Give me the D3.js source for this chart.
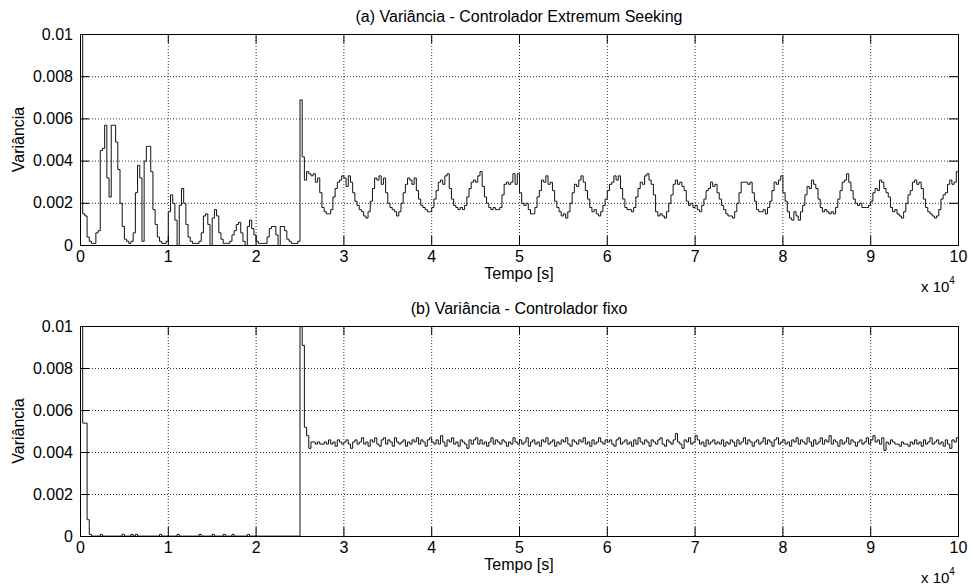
<!DOCTYPE html>
<html>
<head>
<meta charset="utf-8">
<script src="https://cdn.jsdelivr.net/npm/d3@7"></script>
<style>
	body { margin: 0; background: #fff; }
	text { font-family: "Liberation Sans", Arial, Helvetica, sans-serif; fill: #000; }
</style>
</head>
<body>
<div id="chart-area"></div>
<script>

// sample period of the variance series (s)
const step = 250;

const xTicks = [0, 1, 2, 3, 4, 5, 6, 7, 8, 9, 10];
const yTicks = [0, 0.002, 0.004, 0.006, 0.008, 0.01];

// (a) Extremum Seeking controller
const varES = [
	0.015, 0.0015, 0.0014, 0.0004, 0.0002, 0.0001, 0.0001, 0.0006, 0.0007, 0.0045,
	0.0046, 0.0057, 0.0032, 0.0023, 0.0057, 0.0057, 0.0049, 0.0036, 0.0020, 0.0009,
	0.0003, 0.0002, 0.0001, 0.0002, 0.0006, 0.0025, 0.0038, 0.0032, 0.0002, 0.0040,
	0.0047, 0.0047, 0.0035, 0.0017, 0.0010, 0.0004, 0.0002, 0.0001, 0.0001, 0.0002,
	0.0016, 0.0024, 0.0020, 0.0012, 0.0000, 0.0019, 0.0027, 0.0020, 0.0010, 0.0004,
	0.0002, 0.0001, 0.0001, 0.0001, 0.0002, 0.0006, 0.0014, 0.0015, 0.0010, 0.0000,
	0.0013, 0.0017, 0.0014, 0.0006, 0.0003, 0.0001, 0.0001, 0.0001, 0.0002, 0.0005,
	0.0007, 0.0010, 0.0011, 0.0006, 0.0002, 0.0000, 0.0009, 0.0012, 0.0008, 0.0005,
	0.0002, 0.0001, 0.0001, 0.0001, 0.0001, 0.0004, 0.0008, 0.0009, 0.0009, 0.0005,
	0.0000, 0.0009, 0.0009, 0.0007, 0.0003, 0.0002, 0.0001, 0.0001, 0.0001, 0.0002,
	0.0069, 0.0042, 0.0031, 0.0035, 0.0034, 0.0033, 0.0034, 0.0030, 0.0032, 0.0025,
	0.0018, 0.0016, 0.0015, 0.0015, 0.0017, 0.0023, 0.0027, 0.0030, 0.0031, 0.0033,
	0.0032, 0.0028, 0.0033, 0.0030, 0.0025, 0.0021, 0.0019, 0.0017, 0.0016, 0.0014,
	0.0013, 0.0016, 0.0021, 0.0027, 0.0032, 0.0031, 0.0033, 0.0029, 0.0032, 0.0025,
	0.0020, 0.0018, 0.0017, 0.0016, 0.0014, 0.0016, 0.0020, 0.0025, 0.0029, 0.0032,
	0.0031, 0.0029, 0.0032, 0.0026, 0.0022, 0.0019, 0.0018, 0.0017, 0.0016, 0.0016,
	0.0018, 0.0022, 0.0026, 0.0030, 0.0031, 0.0029, 0.0033, 0.0034, 0.0027, 0.0022,
	0.0019, 0.0018, 0.0017, 0.0018, 0.0017, 0.0019, 0.0023, 0.0027, 0.0030, 0.0031,
	0.0030, 0.0033, 0.0035, 0.0028, 0.0023, 0.0020, 0.0018, 0.0017, 0.0018, 0.0017,
	0.0017, 0.0018, 0.0024, 0.0029, 0.0030, 0.0029, 0.0030, 0.0034, 0.0029, 0.0034,
	0.0025, 0.0020, 0.0019, 0.0020, 0.0017, 0.0015, 0.0015, 0.0018, 0.0023, 0.0026,
	0.0031, 0.0030, 0.0033, 0.0029, 0.0030, 0.0026, 0.0021, 0.0018, 0.0016, 0.0014,
	0.0015, 0.0013, 0.0016, 0.0020, 0.0025, 0.0029, 0.0028, 0.0031, 0.0033, 0.0030,
	0.0026, 0.0022, 0.0018, 0.0016, 0.0017, 0.0015, 0.0014, 0.0016, 0.0019, 0.0022,
	0.0026, 0.0029, 0.0030, 0.0033, 0.0031, 0.0033, 0.0027, 0.0022, 0.0018, 0.0017,
	0.0017, 0.0016, 0.0018, 0.0023, 0.0027, 0.0030, 0.0029, 0.0033, 0.0034, 0.0031,
	0.0029, 0.0024, 0.0016, 0.0014, 0.0015, 0.0014, 0.0013, 0.0016, 0.0020, 0.0024,
	0.0029, 0.0031, 0.0029, 0.0030, 0.0028, 0.0026, 0.0021, 0.0019, 0.0020, 0.0018,
	0.0019, 0.0017, 0.0016, 0.0019, 0.0022, 0.0026, 0.0027, 0.0030, 0.0028, 0.0029,
	0.0025, 0.0022, 0.0019, 0.0017, 0.0015, 0.0014, 0.0014, 0.0013, 0.0016, 0.0020,
	0.0025, 0.0030, 0.0030, 0.0030, 0.0029, 0.0030, 0.0025, 0.0021, 0.0017, 0.0016,
	0.0016, 0.0017, 0.0015, 0.0018, 0.0021, 0.0026, 0.0030, 0.0029, 0.0031, 0.0033,
	0.0025, 0.0021, 0.0016, 0.0013, 0.0012, 0.0016, 0.0014, 0.0012, 0.0016, 0.0019,
	0.0024, 0.0028, 0.0027, 0.0031, 0.0029, 0.0027, 0.0022, 0.0018, 0.0016, 0.0017,
	0.0016, 0.0015, 0.0016, 0.0015, 0.0018, 0.0022, 0.0026, 0.0030, 0.0031, 0.0034,
	0.0030, 0.0026, 0.0022, 0.0020, 0.0019, 0.0020, 0.0018, 0.0018, 0.0018, 0.0019,
	0.0021, 0.0025, 0.0027, 0.0026, 0.0031, 0.0030, 0.0027, 0.0025, 0.0023, 0.0018,
	0.0016, 0.0017, 0.0015, 0.0014, 0.0013, 0.0016, 0.0020, 0.0024, 0.0026, 0.0030,
	0.0031, 0.0029, 0.0030, 0.0027, 0.0022, 0.0018, 0.0016, 0.0015, 0.0014, 0.0013,
	0.0014, 0.0017, 0.0022, 0.0024, 0.0025, 0.0029, 0.0031, 0.0029, 0.0030, 0.0035
];

// (b) fixed controller
const varFixo = [
	0.015, 0.0054, 0.0054, 0.0008, 0.0001, 0.00002, 0.00002, 0.00002, 0.00002, 0.0001,
	0.00002, 0.00002, 0.00002, 0.00002, 0.00002, 0.00002, 0.00002, 0.00002, 0.00002, 0.0001,
	0.00002, 0.00002, 0.00002, 0.0001, 0.00002, 0.0001, 0.00002, 0.00002, 0.00002, 0.00002,
	0.00002, 0.00002, 0.00002, 0.00002, 0.00002, 0.00002, 0.0001, 0.00002, 0.00002, 0.00002,
	0.00002, 0.00002, 0.00002, 0.00002, 0.0001, 0.00002, 0.00002, 0.00002, 0.00002, 0.00002,
	0.00002, 0.00002, 0.00002, 0.00002, 0.0001, 0.00002, 0.00002, 0.00002, 0.00002, 0.00002,
	0.0001, 0.00002, 0.00002, 0.00002, 0.00002, 0.0001, 0.00002, 0.00002, 0.00002, 0.0001,
	0.00002, 0.00002, 0.00002, 0.00002, 0.00002, 0.00002, 0.0001, 0.00002, 0.00002, 0.00002,
	0.00002, 0.00002, 0.00002, 0.00002, 0.00002, 0.00002, 0.00002, 0.00002, 0.00002, 0.00002,
	0.00002, 0.00002, 0.00002, 0.00002, 0.00002, 0.00002, 0.00002, 0.00002, 0.00002, 0.00002,
	0.015, 0.0091, 0.0052, 0.0048, 0.0042, 0.0045, 0.0045, 0.0044, 0.0045, 0.0044,
	0.0044, 0.0045, 0.0044, 0.0046, 0.0044, 0.0045, 0.0043, 0.0046, 0.0045, 0.0044,
	0.0045, 0.0046, 0.0044, 0.0042, 0.0045, 0.0046, 0.0044, 0.0045, 0.0047, 0.0044,
	0.0045, 0.0043, 0.0046, 0.0045, 0.0047, 0.0044, 0.0043, 0.0046, 0.0047, 0.0044,
	0.0046, 0.0045, 0.0043, 0.0047, 0.0045, 0.0044, 0.0045, 0.0046, 0.0043, 0.0045,
	0.0044, 0.0046, 0.0045, 0.0047, 0.0044, 0.0046, 0.0045, 0.0043, 0.0046, 0.0047,
	0.0045, 0.0044, 0.0046, 0.0044, 0.0048, 0.0045, 0.0043, 0.0046, 0.0045, 0.0047,
	0.0044, 0.0045, 0.0043, 0.0046, 0.0045, 0.0044, 0.0042, 0.0046, 0.0044, 0.0046,
	0.0047, 0.0044, 0.0046, 0.0044, 0.0045, 0.0043, 0.0045, 0.0047, 0.0044, 0.0046,
	0.0045, 0.0044, 0.0046, 0.0045, 0.0043, 0.0045, 0.0044, 0.0047, 0.0045, 0.0044,
	0.0046, 0.0044, 0.0045, 0.0047, 0.0043, 0.0045, 0.0046, 0.0044, 0.0045, 0.0043,
	0.0046, 0.0045, 0.0047, 0.0044, 0.0045, 0.0046, 0.0043, 0.0045, 0.0044, 0.0046,
	0.0045, 0.0047, 0.0044, 0.0043, 0.0046, 0.0045, 0.0044, 0.0046, 0.0045, 0.0047,
	0.0044, 0.0045, 0.0043, 0.0046, 0.0044, 0.0045, 0.0047, 0.0045, 0.0044, 0.0046,
	0.0045, 0.0046, 0.0044, 0.0043, 0.0046, 0.0047, 0.0044, 0.0045, 0.0046, 0.0044,
	0.0045, 0.0043, 0.0046, 0.0044, 0.0047, 0.0045, 0.0044, 0.0046, 0.0045, 0.0043,
	0.0046, 0.0045, 0.0044, 0.0046, 0.0047, 0.0044, 0.0043, 0.0046, 0.0045, 0.0044,
	0.0046, 0.0049, 0.0045, 0.0044, 0.0042, 0.0046, 0.0045, 0.0047, 0.0044, 0.0045,
	0.0048, 0.0046, 0.0044, 0.0045, 0.0043, 0.0046, 0.0044, 0.0045, 0.0046, 0.0044,
	0.0045, 0.0044, 0.0046, 0.0043, 0.0045, 0.0044, 0.0046, 0.0045, 0.0043, 0.0046,
	0.0044, 0.0045, 0.0047, 0.0044, 0.0046, 0.0045, 0.0043, 0.0045, 0.0046, 0.0044,
	0.0045, 0.0047, 0.0044, 0.0046, 0.0045, 0.0043, 0.0046, 0.0047, 0.0044, 0.0045,
	0.0046, 0.0044, 0.0045, 0.0043, 0.0046, 0.0045, 0.0047, 0.0044, 0.0046, 0.0045,
	0.0044, 0.0047, 0.0045, 0.0043, 0.0046, 0.0044, 0.0045, 0.0047, 0.0044, 0.0046,
	0.0045, 0.0048, 0.0044, 0.0046, 0.0045, 0.0043, 0.0046, 0.0044, 0.0045, 0.0047,
	0.0044, 0.0046, 0.0045, 0.0043, 0.0045, 0.0046, 0.0044, 0.0045, 0.0047, 0.0044,
	0.0046, 0.0048, 0.0045, 0.0046, 0.0044, 0.0047, 0.0041, 0.0045, 0.0044, 0.0046,
	0.0045, 0.0044, 0.0044, 0.0043, 0.0045, 0.0044, 0.0044, 0.0043, 0.0045, 0.0044,
	0.0046, 0.0044, 0.0045, 0.0043, 0.0046, 0.0044, 0.0045, 0.0047, 0.0044, 0.0045,
	0.0046, 0.0044, 0.0045, 0.0043, 0.0046, 0.0044, 0.0042, 0.0046, 0.0045, 0.0047
];

const width = 972;
const height = 586;
const margin = {left: 80, right: 14};

const panels = [
	{id: "a", title: "(a) Variância - Controlador Extremum Seeking", values: varES, top: 34, bottom: 245},
	{id: "b", title: "(b) Variância - Controlador fixo", values: varFixo, top: 326, bottom: 536}
];

var svg = d3.select("#chart-area").append("svg")
	.attr("width", width)
	.attr("height", height);

// x in units of 1e4 s
var x = d3.scaleLinear()
	.domain([0, 10])
	.range([margin.left, width - margin.right]);

var fmtY = d => d === 0 ? "0" : String(+d.toFixed(3));

function renderPanel(p) {

	var y = d3.scaleLinear()
		.domain([0, 0.01])
		.range([p.bottom, p.top]);

	var h = p.bottom - p.top;
	var w = x.range()[1] - x.range()[0];

	var g = svg.append("g");

	// grid
	g.append("g")
		.attr("class", "grid")
		.attr("transform", `translate(0,${p.bottom})`)
		.call(d3.axisBottom(x).tickValues(xTicks).tickSize(-h).tickFormat(""));
	g.append("g")
		.attr("class", "grid")
		.attr("transform", `translate(${margin.left},0)`)
		.call(d3.axisLeft(y).tickValues(yTicks).tickSize(-w).tickFormat(""));
	g.selectAll(".grid .domain").remove();
	g.selectAll(".grid line")
		.attr("stroke", "#333")
		.attr("stroke-dasharray", "1,2");

	// staircase line
	var pts = p.values.map((v, i) => [i * step / 1e4, v]);
	pts.push([p.values.length * step / 1e4, p.values[p.values.length - 1]]);

	svg.append("clipPath")
		.attr("id", "clip-" + p.id)
		.append("rect")
		.attr("x", margin.left)
		.attr("y", p.top)
		.attr("width", w + 1)
		.attr("height", h + 1);

	var line = d3.line()
		.x(d => x(d[0]) + 0.5)
		.y(d => y(d[1]) + 0.5)
		.curve(d3.curveStepAfter);

	g.append("path")
		.datum(pts)
		.attr("clip-path", `url(#clip-${p.id})`)
		.attr("fill", "none")
		.attr("stroke", "#111")
		.attr("stroke-width", 1)
		.attr("d", line);

	// axes, ticks pointing inwards
	var xAxis = g.append("g")
		.attr("transform", `translate(0,${p.bottom})`)
		.call(d3.axisBottom(x).tickValues(xTicks).tickSize(-9).tickSizeOuter(0).tickPadding(6)
			.tickFormat(d3.format("d")));
	g.append("g")
		.attr("transform", `translate(0,${p.top})`)
		.call(d3.axisTop(x).tickValues(xTicks).tickSize(-9).tickSizeOuter(0).tickFormat(""));
	var yAxis = g.append("g")
		.attr("transform", `translate(${margin.left},0)`)
		.call(d3.axisLeft(y).tickValues(yTicks).tickSize(-9).tickSizeOuter(0).tickPadding(7)
			.tickFormat(fmtY));
	g.append("g")
		.attr("transform", `translate(${width - margin.right},0)`)
		.call(d3.axisRight(y).tickValues(yTicks).tickSize(-9).tickSizeOuter(0).tickFormat(""));

	g.selectAll(".domain").remove();
	g.selectAll(".tick line").filter(function() { return !this.parentNode.parentNode.classList.contains("grid"); })
		.attr("stroke", "#000");
	xAxis.selectAll("text")
		.attr("font-size", 16)
		.attr("font-family", null);
	yAxis.selectAll("text")
		.attr("font-size", 16)
		.attr("font-family", null);

	// box
	g.append("rect")
		.attr("x", margin.left + 0.5)
		.attr("y", p.top + 0.5)
		.attr("width", w)
		.attr("height", h)
		.attr("fill", "none")
		.attr("stroke", "#000");

	// texts
	g.append("text")
		.attr("x", (x.range()[0] + x.range()[1]) / 2)
		.attr("y", p.top - 12)
		.attr("text-anchor", "middle")
		.attr("font-size", 16)
		.text(p.title);
	g.append("text")
		.attr("x", (x.range()[0] + x.range()[1]) / 2)
		.attr("y", p.bottom + 34)
		.attr("text-anchor", "middle")
		.attr("font-size", 16)
		.text("Tempo [s]");
	g.append("text")
		.attr("transform", `translate(24,${(p.top + p.bottom) / 2}) rotate(-90)`)
		.attr("text-anchor", "middle")
		.attr("font-size", 16)
		.text("Variância");

	var mult = g.append("text")
		.attr("x", 921)
		.attr("y", p.bottom + 47)
		.attr("font-size", 15);
	mult.append("tspan").text("x 10");
	mult.append("tspan")
		.attr("dy", -8)
		.attr("font-size", 10)
		.text("4");
}

panels.forEach(renderPanel);

</script>
</body>
</html>
